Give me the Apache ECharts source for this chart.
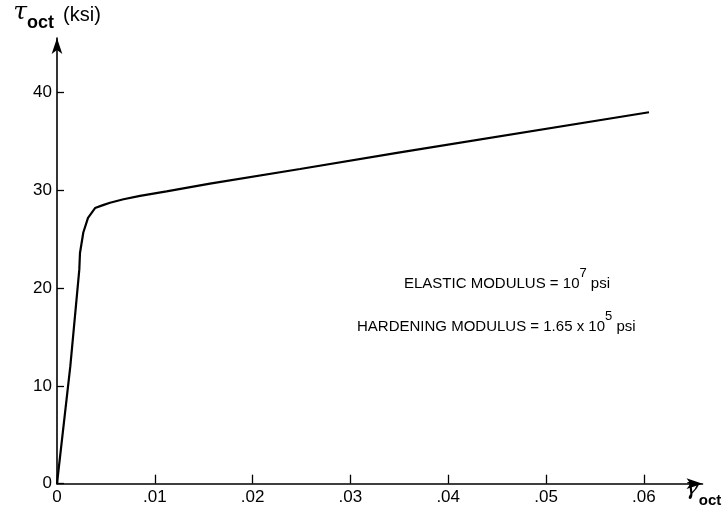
<!DOCTYPE html>
<html>
<head>
<meta charset="utf-8">
<script src="https://cdn.jsdelivr.net/npm/echarts@6/dist/echarts.min.js"></script>
<style>html,body{margin:0;padding:0;background:#fff}#c{width:723px;height:517px}</style>
</head>
<body>
<div id="c"></div>
<script>
// strain (gamma_oct) and stress (tau_oct, ksi)
const gammaOct = [0, 0.00136, 0.00228, 0.00235, 0.00269, 0.00317, 0.00389, 0.00470, 0.00542, 0.00680, 0.00849, 0.01120, 0.01564, 0.02485, 0.03507, 0.06053];
const tauOct   = [0, 12.0,    21.9,    23.6,    25.7,    27.2,    28.2,    28.5,    28.75,   29.1,    29.45,   29.9,    30.7,    32.2,    33.9,    38.0];
const xTicks = [0, 0.01, 0.02, 0.03, 0.04, 0.05, 0.06];
const xTickLabels = ['0', '.01', '.02', '.03', '.04', '.05', '.06'];
const yTicks = [0, 10, 20, 30, 40];
const yTickLabels = ['0', '10', '20', '30', '40'];

const FONT = 'Liberation Sans';
const chart = echarts.init(document.getElementById('c'), null, {renderer: 'canvas'});
const points = gammaOct.map((g, i) => [g, tauOct[i]]);
const axisCommon = {
  axisLine: {show: true, lineStyle: {color: '#000', width: 1.6}, symbol: ['none', 'arrow'], symbolSize: [8, 16]},
  splitLine: {show: false},
  axisLabel: {color: '#000', fontFamily: FONT, fontSize: 17},
};
chart.setOption({
  animation: false,
  backgroundColor: '#fff',
  grid: {left: 57, right: 20.5, top: 37.7, bottom: 33.3, containLabel: false},
  xAxis: Object.assign({}, axisCommon, {
    type: 'value', min: 0, max: 0.066,
    axisTick: {show: true, inside: true, length: 9, customValues: xTicks, lineStyle: {color: '#000', width: 1.3}},
    axisLabel: Object.assign({}, axisCommon.axisLabel, {
      customValues: xTicks, margin: 5,
      formatter: v => xTickLabels[xTicks.findIndex(t => Math.abs(t - v) < 1e-9)]
    }),
  }),
  yAxis: Object.assign({}, axisCommon, {
    type: 'value', min: 0, max: 45.6,
    axisTick: {show: true, inside: true, length: 7, customValues: yTicks, lineStyle: {color: '#000', width: 1.3}},
    axisLabel: Object.assign({}, axisCommon.axisLabel, {
      customValues: yTicks, margin: 5,
      formatter: v => yTickLabels[yTicks.indexOf(v)]
    }),
    name: '{t|τ}{s|oct}{n|(ksi)}',
    nameLocation: 'end', nameGap: 6,
    nameTextStyle: {
      fontFamily: FONT, color: '#000', align: 'center',
      rich: {
        t: {fontSize: 25, fontStyle: 'italic', fontFamily: 'DejaVu Serif', color: '#000', verticalAlign: 'bottom', lineHeight: 30, padding: [0, 0, 7, 0]},
        s: {fontSize: 18, fontWeight: 'bold', fontFamily: FONT, color: '#000', verticalAlign: 'bottom', lineHeight: 30},
        n: {fontSize: 20, fontFamily: FONT, color: '#000', verticalAlign: 'bottom', lineHeight: 30, padding: [0, 0, 7, 9]}
      }
    }
  }),
  graphic: [
    {type: 'text', left: 685, top: 477, style: {
      text: '{g|γ}{s|oct}',
      rich: {
        g: {fontSize: 23, fontStyle: 'italic', fontFamily: 'DejaVu Serif', fill: '#000', verticalAlign: 'bottom', lineHeight: 32, padding: [0, 0, 8, 0]},
        s: {fontSize: 15, fontWeight: 'bold', fontFamily: FONT, fill: '#000', verticalAlign: 'bottom', lineHeight: 32}
      }}},
    {type: 'text', left: 404, top: 267, style: {
      text: '{m|ELASTIC MODULUS = 10}{p|7}{m| psi}',
      rich: {
        m: {fontSize: 15, fontFamily: FONT, fill: '#000', verticalAlign: 'bottom', lineHeight: 24},
        p: {fontSize: 13, fontFamily: FONT, fill: '#000', verticalAlign: 'top', lineHeight: 24}
      }}},
    {type: 'text', left: 357, top: 310, style: {
      text: '{m|HARDENING MODULUS = 1.65 x 10}{p|5}{m| psi}',
      rich: {
        m: {fontSize: 15, fontFamily: FONT, fill: '#000', verticalAlign: 'bottom', lineHeight: 24},
        p: {fontSize: 13, fontFamily: FONT, fill: '#000', verticalAlign: 'top', lineHeight: 24}
      }}}
  ],
  series: [{
    type: 'line', data: points, showSymbol: false, smooth: false,
    lineStyle: {color: '#000', width: 2.2}
  }]
});
</script>
</body>
</html>
